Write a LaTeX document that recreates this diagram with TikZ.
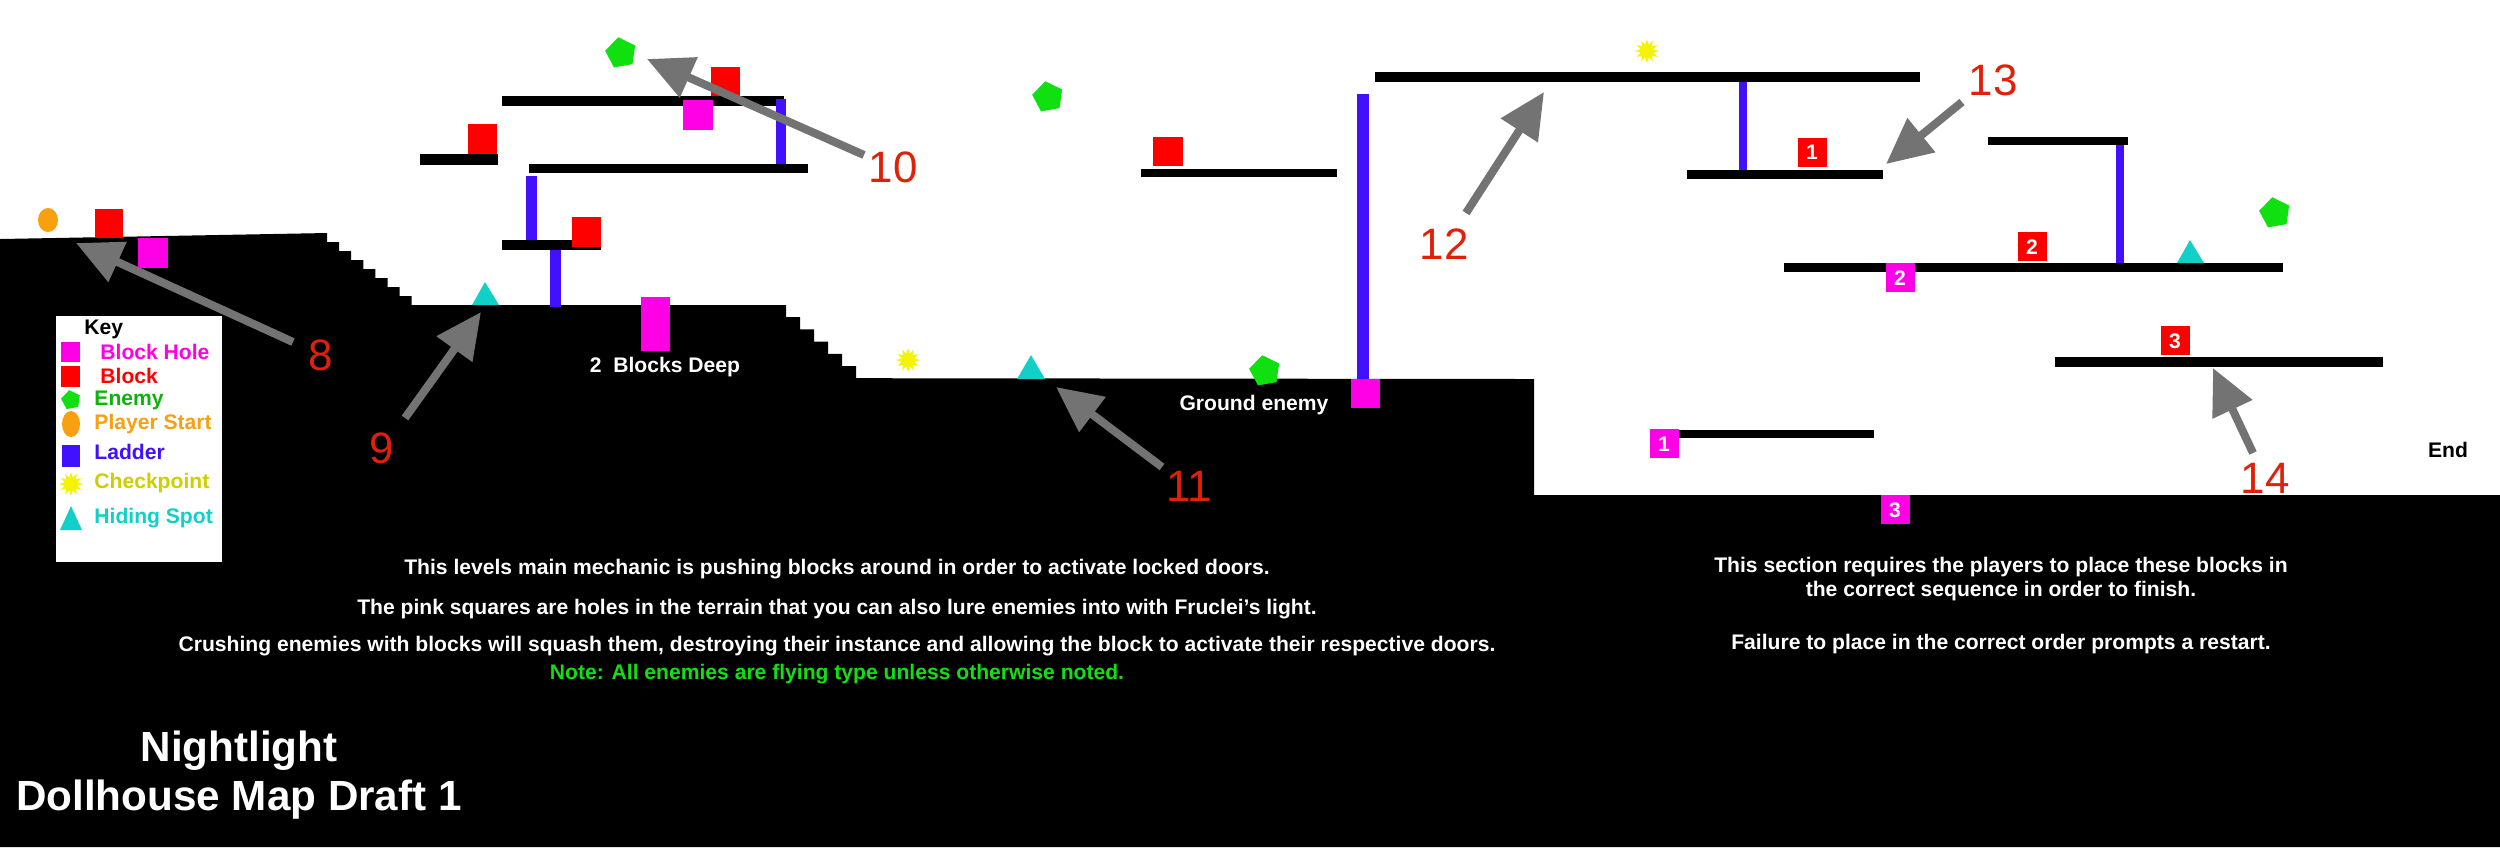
\documentclass[tikz,border=0pt]{standalone}
\usepackage{fontspec}
\setmainfont{Liberation Sans}
\usetikzlibrary{shapes.geometric,arrows.meta}
\definecolor{mag}{HTML}{FF00E6}
\definecolor{lad}{HTML}{4010FF}
\definecolor{grn}{HTML}{10E010}
\definecolor{cyn}{HTML}{10D0C8}
\definecolor{ylw}{HTML}{F4F400}
\definecolor{org}{HTML}{F8A010}
\definecolor{lbl}{HTML}{E02008}
\tikzset{
 plat/.style={fill=black},
 hole/.style={fill=mag},
 blk/.style={fill=red},
 ladder/.style={fill=lad},
 enemy/.style={regular polygon,regular polygon sides=5,fill=grn,minimum size=0.32cm,inner sep=0pt,rotate=10},
 chk/.style={star,star points=12,star point ratio=1.8,fill=ylw,minimum size=0.24cm,inner sep=0pt},
 hide/.style={fill=cyn},
 ptr/.style={draw=gray!90!black,line width=2.3pt,-{Triangle[length=13pt,width=12pt]}},
 num/.style={text=lbl,font=\fontsize{12.5}{14}\selectfont},
 wtxt/.style={text=white,font=\bfseries\fontsize{6.0}{7}\selectfont,align=center},
 keyt/.style={anchor=west,font=\bfseries\fontsize{6}{7}\selectfont},
 nlab/.style={text=white,font=\bfseries\fontsize{6}{7}\selectfont}
}
\begin{document}
\begin{tikzpicture}[x=0.01cm,y=-0.01cm]
\useasboundingbox (0,0) rectangle (2500,847);
% terrain
\fill[black] (0,239) -- (327,233) \foreach \i in {1,...,8}{ -- ++(0,9) -- ++(12.1,0)} -- (786,305)
 \foreach \i in {1,...,6}{ -- ++(0,12.2) -- ++(14,0)} -- (1534,379) -- (1534,495) -- (2500,495) -- (2500,847) -- (0,847) -- cycle;
% left area objects
\fill[org] (48,220) ellipse (10 and 12);
\fill[blk] (95,209) rectangle (123,238);
\fill[hole] (138,238) rectangle (168,268);
% key
\fill[white] (56,316) rectangle (222,562);
\node[keyt] (kk) at (72,329) {Key};
\fill[hole] (61,342) rectangle (80,362);
\node[keyt,text=mag] (k1) at (88,352) {Block Hole};
\fill[blk] (61,366) rectangle (80,387);
\node[keyt,text=red] (k2) at (88,376) {Block};
\node[enemy,minimum size=0.2cm] (ke) at (71,400) {};
\node[keyt,text=grn!80!black] (k3) at (82,400) {Enemy};
\fill[org] (71,424) ellipse (9 and 13);
\node[keyt,text=org] (k4) at (82,424) {Player Start};
\fill[ladder] (62,445) rectangle (80,467);
\node[keyt,text=lad] (k5) at (82,452) {Ladder};
\node[chk,minimum size=0.24cm] (kc) at (71,484) {};
\node[keyt,text=ylw!85!black] (k6) at (82,483) {Checkpoint};
\fill[hide] (60,530) -- (71,506) -- (82,530) -- cycle;
\node[keyt,text=cyn] (k7) at (82,518) {Hiding Spot};
% arrows 8, 9
\coordinate (t8) at (293,342); \coordinate (h8) at (76,243);
\draw[ptr] (t8) -- (h8);
\node[num] (n8) at (321,355) {8};
\fill[hide] (472,305) -- (485,282) -- (499,305) -- cycle;
\coordinate (t9) at (405,418); \coordinate (h9) at (481,312);
\draw[ptr] (t9) -- (h9);
\node[num] (n9) at (382,448) {9};
% upper left structures
\fill[ladder] (550,250) rectangle (561,307);
\fill[plat] (502,240) rectangle (601,250);
\fill[blk] (572,217) rectangle (601,247);
\fill[ladder] (526,176) rectangle (537,240);
\fill[plat] (529,164) rectangle (808,173);
\fill[plat] (420,154) rectangle (498,165);
\fill[blk] (468,124) rectangle (497,154);
\fill[plat] (502,96) rectangle (784,106);
\fill[ladder] (776,99) rectangle (786,164);
\fill[hole] (683,100) rectangle (713,130);
\fill[blk] (711,67) rectangle (740,96);
\node[enemy] (e1) at (621,53) {};
\coordinate (t10) at (864,155); \coordinate (h10) at (647,59);
\draw[ptr] (t10) -- (h10);
\node[num] (n10) at (893,167) {10};
\fill[hole] (641,297) rectangle (670,351);
\node[nlab] (deep) at (665,367) {2\ \ Blocks Deep};
% middle
\node[chk] (c1) at (908,360) {};
\fill[hide] (1017,379) -- (1031,355) -- (1045,379) -- cycle;
\node[enemy] (e2) at (1265,371) {};
\node[nlab] (ge) at (1254,405) {Ground enemy};
\fill[ladder] (1357,94) rectangle (1369,379);
\fill[hole] (1351,379) rectangle (1380,408);
\node[enemy] (e3) at (1048,97) {};
\fill[plat] (1141,169) rectangle (1337,177);
\fill[blk] (1153,137) rectangle (1183,166);
\coordinate (t11) at (1162,467); \coordinate (h11) at (1056,387);
\draw[ptr] (t11) -- (h11);
\node[num] (n11) at (1189,486) {11};
\coordinate (t12) at (1466,213); \coordinate (h12) at (1544,92);
\draw[ptr] (t12) -- (h12);
\node[num] (n12) at (1444,244) {12};
% right
\fill[plat] (1375,72) rectangle (1920,82);
\node[chk] (c2) at (1647,51) {};
\fill[ladder] (1739,82) rectangle (1747,170);
\fill[plat] (1687,170) rectangle (1883,179);
\fill[blk] (1798,138) rectangle (1827,167);
\node[nlab] (r1) at (1812,152) {1};
\coordinate (t13) at (1962,102); \coordinate (h13) at (1886,164);
\draw[ptr] (t13) -- (h13);
\node[num] (n13) at (1993,80) {13};
\fill[plat] (1988,137) rectangle (2128,145);
\fill[ladder] (2116,145) rectangle (2124,265);
\fill[plat] (1784,263) rectangle (2283,272);
\fill[hole] (1886,263) rectangle (1915,292);
\node[nlab] (m2) at (1900,278) {2};
\fill[blk] (2018,232) rectangle (2047,261);
\node[nlab] (r2) at (2032,247) {2};
\fill[hide] (2177,263) -- (2190,240) -- (2204,263) -- cycle;
\node[enemy] (e4) at (2275,213) {};
\fill[plat] (2055,357) rectangle (2383,367);
\fill[blk] (2161,326) rectangle (2190,355);
\node[nlab] (r3) at (2175,341) {3};
\coordinate (t14) at (2253,453); \coordinate (h14) at (2213,368);
\draw[ptr] (t14) -- (h14);
\node[num] (n14) at (2265,478) {14};
\fill[plat] (1679,430) rectangle (1874,438);
\fill[hole] (1650,429) rectangle (1679,458);
\node[nlab] (m1) at (1664,444) {1};
\fill[hole] (1881,495) rectangle (1910,524);
\node[nlab] (m3) at (1895,510) {3};
\node[font=\bfseries\fontsize{6}{7}\selectfont] (end) at (2448,450) {End};
% texts
\node[wtxt] (d1) at (837,569) {This levels main mechanic is pushing blocks around in order to activate locked doors.};
\node[wtxt] (d2) at (837,609) {The pink squares are holes in the terrain that you can also lure enemies into with Fruclei’s light.};
\node[wtxt] (d3) at (837,646) {Crushing enemies with blocks will squash them, destroying their instance and allowing the block to activate their respective doors.};
\node[wtxt,text=grn] (d4) at (837,674) {Note: All enemies are flying type unless otherwise noted.};
\node[wtxt] (s1) at (2001,567) {This section requires the players to place these blocks in};
\node[wtxt] (s2) at (2001,591) {the correct sequence in order to finish.};
\node[wtxt] (s3) at (2001,644) {Failure to place in the correct order prompts a restart.};
\node[text=white,font=\bfseries\fontsize{12}{14}\selectfont] (ti1) at (239,751) {Nightlight};
\node[text=white,font=\bfseries\fontsize{12}{14}\selectfont] (ti2) at (239,800) {Dollhouse Map Draft 1};
\end{tikzpicture}
\end{document}
